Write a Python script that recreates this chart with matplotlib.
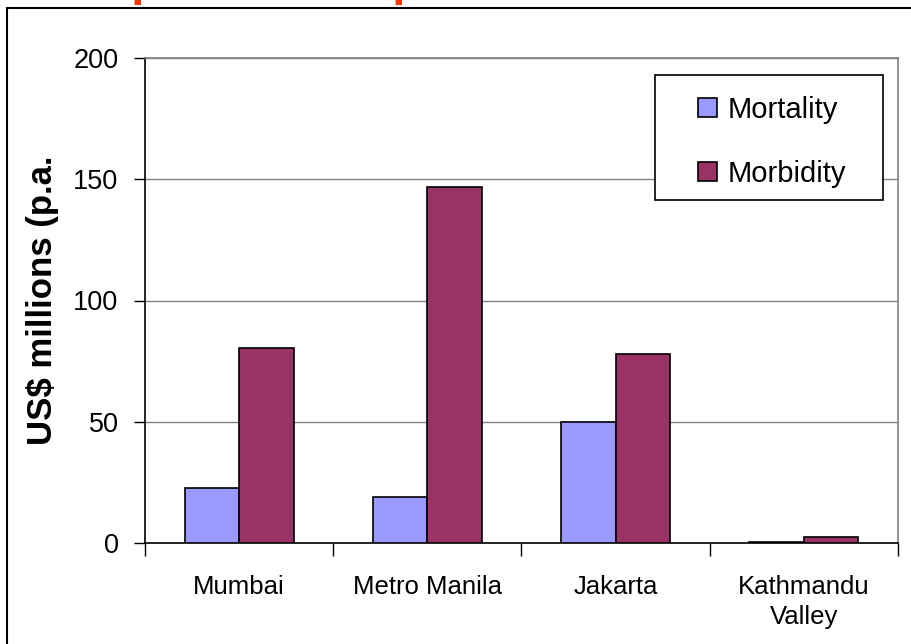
import matplotlib
matplotlib.use('Agg')
import matplotlib.pyplot as plt
from matplotlib.patches import Rectangle
from matplotlib.ticker import FixedLocator
import numpy as np

plt.rcParams['font.family'] = ['Liberation Sans', 'DejaVu Sans']

cities = ['Mumbai', 'Metro Manila', 'Jakarta', 'Kathmandu\nValley']
mortality = [22.8, 19.0, 50.0, 0.6]
morbidity = [80.3, 146.8, 77.9, 2.3]
yticks = [0, 50, 100, 150, 200]

fig = plt.figure(figsize=(9.12, 6.44), dpi=100)
ax = fig.add_axes([145/912, 1 - 543/644, 753/912, 485/644])

# slide title sits above the chart frame, only its descenders reach down
fig.text(-78/912, 1 + 4.5/644, 'Health impacts of air pollution', color='#FF3300',
         fontsize=33.5, fontweight='bold', ha='left', va='baseline')

# chart-area frame
fig.patches.append(Rectangle((7/912, -0.1), 1.2, 1.1 - 8/644, transform=fig.transFigure,
                             fill=False, edgecolor='black', linewidth=1.5, clip_on=False))

x = np.arange(len(cities)) + 0.5
w = 0.29
ax.bar(x - w/2, mortality, w, color='#9999FF', edgecolor='black', linewidth=1.2,
       label='Mortality', zorder=3)
ax.bar(x + w/2, morbidity, w, color='#993366', edgecolor='black', linewidth=1.2,
       label='Morbidity', zorder=3)

ax.set_xlim(0, len(cities))
ax.set_ylim(0, 200)
ax.set_yticks(yticks)
ax.yaxis.grid(True, color='#808080', linewidth=1, zorder=0)
ax.tick_params(axis='y', direction='out', length=8, width=1, labelsize=19.5, pad=11)

ax.xaxis.set_major_locator(FixedLocator(np.arange(len(cities) + 1)))
ax.xaxis.set_minor_locator(FixedLocator(x))
ax.set_xticklabels([], minor=False)
ax.set_xticklabels(cities, minor=True, fontsize=18.5, linespacing=1.3)
ax.tick_params(axis='x', which='major', direction='out', length=9, width=1)
ax.tick_params(axis='x', which='minor', length=0, pad=23)

for side in ['top', 'right']:
    ax.spines[side].set_color('#808080')
ax.spines['left'].set_color('black')
ax.spines['bottom'].set_color('black')
for s in ax.spines.values():
    s.set_linewidth(1.2)

ax.set_ylabel('US$ millions (p.a.', fontsize=25, fontweight='bold')
ax.yaxis.set_label_coords(-0.114, 0.5)

# legend box drawn separately so the entries can sit with wide side margins
ax.add_patch(Rectangle((0.6773, 0.7072), 0.3028, 0.2577, transform=ax.transAxes,
                       facecolor='white', edgecolor='black', linewidth=1.2, zorder=4))
leg = ax.legend(loc='upper left', bbox_to_anchor=(0.7344, 0.922), borderaxespad=0,
                fontsize=21, frameon=False, handlelength=0.65, handleheight=0.65,
                handletextpad=0.35, labelspacing=1.24, borderpad=0)
leg.set_zorder(5)
for h in leg.legend_handles:
    h.set_edgecolor('black')

fig.savefig('out.png', dpi=100)
